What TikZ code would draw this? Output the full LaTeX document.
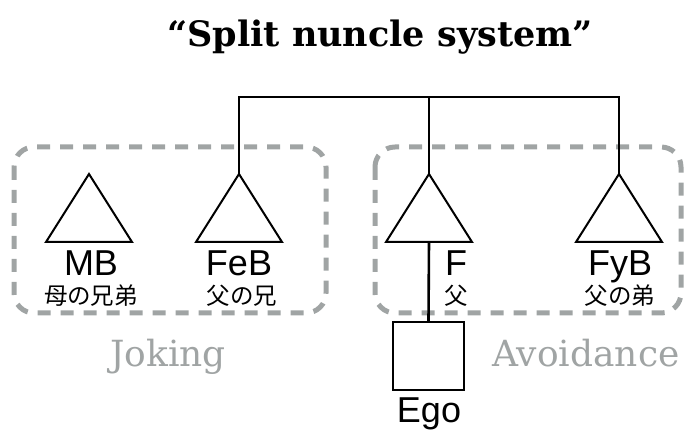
\documentclass[tikz,border=0pt]{standalone}
\usepackage{fontspec}
\setmainfont{DejaVu Serif}
\newfontfamily\labelfont{Liberation Sans}
\newfontfamily\jpfont{Noto Sans CJK JP}
\definecolor{groupgray}{HTML}{A0A4A4}
\begin{document}
\begin{tikzpicture}[x=1pt,y=-1pt,
  kin/.style={draw=black,line width=2pt,line join=miter},
  tie/.style={draw=black,line width=2.6pt},
  grp/.style={draw=groupgray,line width=5pt,rounded corners=20pt,dash pattern=on 13pt off 10pt},
  lab/.style={font=\labelfont\fontsize{36}{36}\selectfont,anchor=base,inner sep=0pt},
  jlab/.style={font=\jpfont\fontsize{23.5}{23.5}\selectfont,anchor=base,inner sep=0pt},
  grplab/.style={font=\fontsize{36}{36}\selectfont,text=groupgray,anchor=base,inner sep=0pt}]
\useasboundingbox (0,0) rectangle (686,430);

% title
\node[font=\bfseries\fontsize{35}{35}\selectfont,anchor=base,inner sep=0pt] (title) at (380,47) {“Split nuncle system”};

% dashed groupings
\draw[grp] (14,147) rectangle (326,313);
\draw[grp] (375,147) rectangle (681,313);

% triangles (apex coordinates)
\coordinate (mb) at (89,174);
\coordinate (feb) at (239,174);
\coordinate (f) at (429,174);
\coordinate (fyb) at (619,174);
\foreach \t in {mb,feb,f,fyb}
  \draw[kin] (\t) -- ++(43,68) -- ++(-86,0) -- cycle;
\coordinate (fbase) at (429,242);

% sibling line
\coordinate (sibl) at (239,97);
\coordinate (sib) at (429,97);
\coordinate (sibr) at (619,97);
\draw[tie,line join=miter] (feb) -- (sibl) -- (sibr) -- (fyb);
\draw[tie] (sib) -- (f);

% ego
\node[draw=black,line width=2pt,minimum width=71pt,minimum height=68pt,inner sep=0pt] (ego) at (428.5,356) {};
\draw[tie] (fbase) -- (ego.north);

% labels
\node[lab] (mbl) at (91,276) {MB};
\node[jlab] (mbj) at (91,305) {母の兄弟};
\node[lab] (febl) at (239,276) {FeB};
\node[jlab] (febj) at (242,305) {父の兄};
\node[lab] (fl) at (456,276) {F};
\node[jlab] (fj) at (456,305) {父};
\node[lab] (fybl) at (620,276) {FyB};
\node[jlab] (fybj) at (620,305) {父の弟};
\node[lab] (egol) at (429,423) {Ego};

\node[grplab] (joking) at (168,367) {Joking};
\node[grplab] (avoid) at (586,367) {Avoidance};
\end{tikzpicture}
\end{document}
